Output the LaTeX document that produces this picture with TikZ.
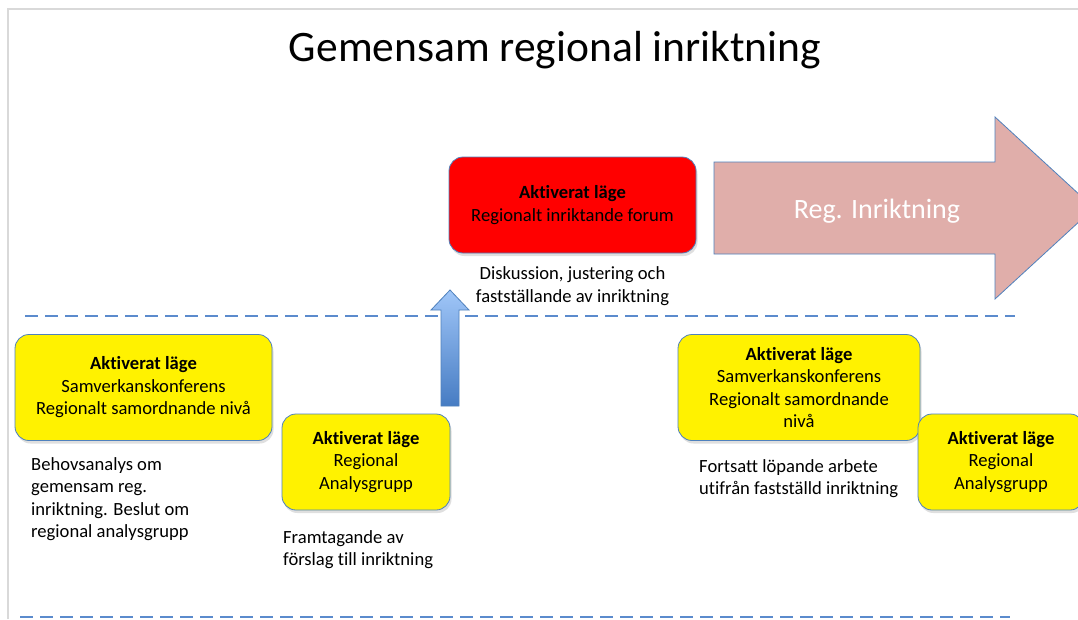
\documentclass[tikz,border=0pt]{standalone}
\usepackage{fontspec}
\setmainfont{Carlito}[Ligatures=NoCommon]
\usetikzlibrary{positioning, shadows}
\definecolor{edgeblue}{RGB}{79, 129, 189}
\definecolor{dashblue}{RGB}{91, 139, 205}
\definecolor{arrowpink}{RGB}{224, 174, 170}
\definecolor{shaftlight}{RGB}{160, 198, 248}
\definecolor{shaftdark}{RGB}{70, 124, 195}
\definecolor{framegray}{RGB}{217, 217, 217}

\tikzset{
  levelbox/.style={draw=edgeblue, line width=0.8pt, rounded corners=14pt, align=center, inner sep=0pt,
    drop shadow={opacity=0.25, shadow xshift=1.5pt, shadow yshift=-3pt}},
  notetext/.style={align=left, anchor=north west, inner sep=0pt},
  divider/.style={draw=dashblue, line width=1.3pt, dash pattern=on 13pt off 7pt}
}

\begin{document}
\begin{tikzpicture}[x=1pt, y=-1pt, every node/.style={font=\fontsize{18.6}{22.5}\selectfont}]
\clip (0,0) rectangle (1078,619);
\fill[white] (0,0) rectangle (1078,619);
\draw[framegray, line width=2pt] (8,619) -- (8,9) -- (1078,9);
\node[anchor=base, font=\fontsize{43.5}{50}\selectfont] (title) at (555,61) {Gemensam regional inriktning};

% dashed level lines
\draw[divider] (25,316) -- (1015,316);
\draw[divider] (20,617) -- (1010,617);

% upper level
\node[levelbox, fill=red, minimum width=247pt, minimum height=96pt] (forum) at (572.5,205) {\textbf{Aktiverat läge}\\Regionalt inriktande forum};
\node[below=13pt of forum, align=center, inner sep=0pt] (forumnote) {Diskussion, justering och\\fastställande av inriktning};

\draw[draw=edgeblue, line width=0.8pt, fill=arrowpink] (714,162) -- (995,162) -- (995,117) -- (1094,208)
  -- (995,299) -- (995,254) -- (714,254) -- cycle;
\node[anchor=base, text=white, font=\fontsize{28}{32}\selectfont] (reglabel) at (877,218) {Reg. Inriktning};

\draw[draw=edgeblue, line width=0.8pt, top color=shaftlight, bottom color=shaftdark]
  (441,406) -- (441,310) -- (431,310) -- (450,290) -- (469,310) -- (459,310) -- (459,406) -- cycle;

% lower level
\node[levelbox, fill=yellow, minimum width=257pt, minimum height=106pt] (konf1) at (143.5,387.5) {\textbf{Aktiverat läge}\\Samverkanskonferens\\Regionalt samordnande nivå};
\node[levelbox, fill=yellow, minimum width=168pt, minimum height=96pt] (grupp1) at (366,462) {\textbf{Aktiverat läge}\\Regional\\Analysgrupp};
\node[levelbox, fill=yellow, minimum width=242pt, minimum height=106pt] (konf2) at (799,387.5) {\textbf{Aktiverat läge}\\Samverkanskonferens\\Regionalt samordnande\\nivå};
\node[levelbox, fill=yellow, minimum width=166pt, minimum height=96pt] (grupp2) at (1001,462) {\textbf{Aktiverat läge}\\Regional\\Analysgrupp};

\node[notetext] (konf1note) at (31,457) {Behovsanalys om\\gemensam reg.\\inriktning. Beslut om\\regional analysgrupp};
\node[notetext] (grupp1note) at (283,530) {Framtagande av\\förslag till inriktning};
\node[notetext] (konf2note) at (699,459) {Fortsatt löpande arbete\\utifrån fastställd inriktning};
\end{tikzpicture}
\end{document}
